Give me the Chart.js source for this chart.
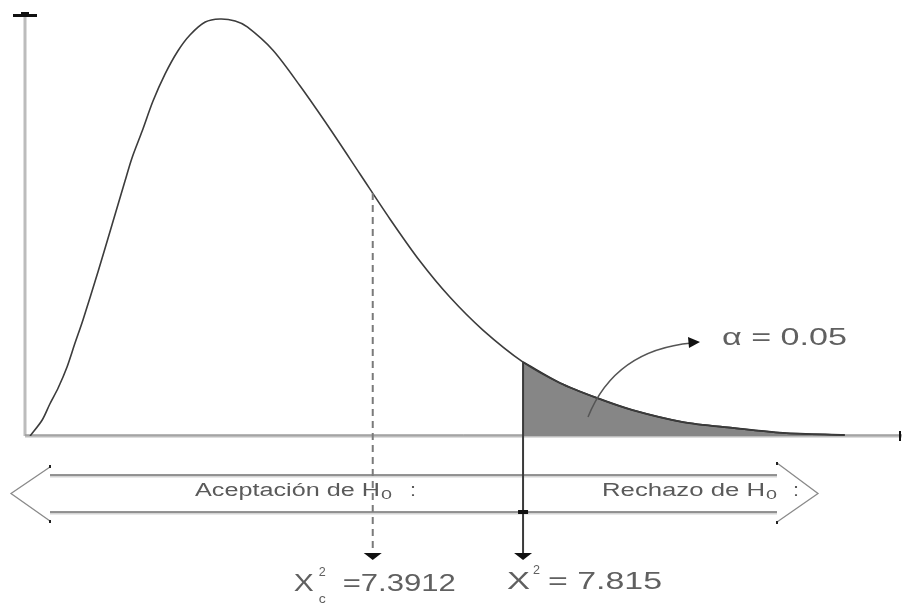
<!doctype html>
<html>
<head>
<title> Chi cuadrado </title>
	<script src="https://cdn.jsdelivr.net/npm/chart.js@4/dist/chart.umd.min.js"></script>
	<style>
		body { margin: 0; background: #fff; }
		canvas { display: block; }
	</style>
</head>

<body>
	<canvas id="canvas" width="902" height="605"></canvas>
	<script>
		// curva
		var curvaX = [0.08, 0.27, 0.39, 0.52, 0.66, 0.78, 0.91, 1.15, 1.37, 1.57, 1.68, 1.84, 2.01, 2.20, 2.40, 2.59, 2.83, 3.06, 3.30, 3.49, 3.89, 4.32, 4.79, 5.26, 5.73, 6.20, 6.67, 7.19, 7.82, 8.40, 8.98, 9.54, 10.33, 11.11, 11.90, 12.87];
		var curvaY = [0.0, 0.0095, 0.0190, 0.0285, 0.0410, 0.0546, 0.0689, 0.0980, 0.1259, 0.1514, 0.1651, 0.1811, 0.1989, 0.2150, 0.2286, 0.2381, 0.2458, 0.2476, 0.2464, 0.2429, 0.2292, 0.2078, 0.1823, 0.1556, 0.1289, 0.1039, 0.0825, 0.0629, 0.0439, 0.0315, 0.0226, 0.0154, 0.0083, 0.0048, 0.0018, 0.0006];

		// posicion de las marcas y sus etiquetas
		var marcaCalculada = 5.46;
		var marcaCritica = 7.82;
		var etiquetaCalculada = '=7.3912';
		var etiquetaCritica = '= 7.815';
		var alfaTexto = '\u03B1 = 0.05';

		var puntos = curvaX.map(function(x, i) { return {x: x, y: curvaY[i]}; });
		var cola = puntos.filter(function(p) { return p.x >= marcaCritica; });

		function valorCurva(x) {
			for (var i = 1; i < curvaX.length; i++) {
				if (x <= curvaX[i]) {
					var t = (x - curvaX[i - 1]) / (curvaX[i] - curvaX[i - 1]);
					return curvaY[i - 1] + t * (curvaY[i] - curvaY[i - 1]);
				}
			}
			return 0;
		}

		// texto estirado al ancho de la figura original
		function texto(ctx, str, x, y, size, ancho) {
			ctx.font = size + 'px "Liberation Sans", Arial, sans-serif';
			var w = ctx.measureText(str).width;
			ctx.save();
			ctx.translate(x, y);
			ctx.scale(ancho / w, 1);
			ctx.fillText(str, 0, 0);
			ctx.restore();
		}

		function flechaAbajo(ctx, x, y) {
			ctx.fillStyle = '#111';
			ctx.beginPath();
			ctx.moveTo(x - 9, y - 3);
			ctx.lineTo(x + 9, y - 3);
			ctx.lineTo(x, y + 4);
			ctx.closePath();
			ctx.fill();
		}

		var ejes = {
			id: 'ejes',
			beforeDatasetsDraw: function(chart) {
				var ctx = chart.ctx, sx = chart.scales.x, sy = chart.scales.y;
				var x0 = sx.getPixelForValue(0), y0 = sy.getPixelForValue(0);
				ctx.save();
				ctx.strokeStyle = '#bcbcbc';
				ctx.lineWidth = 3;
				ctx.beginPath();
				ctx.moveTo(x0, y0);
				ctx.lineTo(x0, sy.top);
				ctx.moveTo(x0, y0);
				ctx.lineTo(chart.width, y0);
				ctx.stroke();
				ctx.strokeStyle = '#8c8c8c';
				ctx.lineWidth = 1;
				ctx.beginPath();
				ctx.moveTo(x0, y0 - 1);
				ctx.lineTo(chart.width, y0 - 1);
				ctx.stroke();
				// punta del eje y
				ctx.fillStyle = '#111';
				ctx.fillRect(x0 - 12, sy.top - 1, 24, 3);
				ctx.fillRect(x0 - 4, sy.top - 3, 8, 3);
				// fin del eje x
				ctx.fillRect(chart.width - 3, y0 - 5, 2, 10);
				ctx.restore();
			},
			afterDatasetsDraw: function(chart) {
				var ctx = chart.ctx, sx = chart.scales.x, sy = chart.scales.y;
				var y0 = sy.getPixelForValue(0);
				var xc = sx.getPixelForValue(marcaCalculada);
				var xk = sx.getPixelForValue(marcaCritica);
				var fondo = y0 + 120;
				ctx.save();

				// banda de doble flecha
				var bTop = y0 + 39, bBot = y0 + 76, bMid = (bTop + bBot) / 2;
				ctx.strokeStyle = '#d4d4d4';
				ctx.lineWidth = 3;
				ctx.beginPath();
				ctx.moveTo(50, bTop + 1); ctx.lineTo(777, bTop + 1);
				ctx.moveTo(50, bBot + 1); ctx.lineTo(777, bBot + 1);
				ctx.stroke();
				ctx.strokeStyle = '#7a7a7a';
				ctx.lineWidth = 1.5;
				ctx.beginPath();
				ctx.moveTo(50, bTop); ctx.lineTo(777, bTop);
				ctx.moveTo(50, bBot); ctx.lineTo(777, bBot);
				ctx.stroke();
				ctx.strokeStyle = '#8a8a8a';
				ctx.lineWidth = 1.3;
				ctx.beginPath();
				ctx.moveTo(50, bTop - 8); ctx.lineTo(11, bMid); ctx.lineTo(50, bBot + 9);
				ctx.moveTo(777, bTop - 12); ctx.lineTo(818, bMid); ctx.lineTo(777, bBot + 10);
				ctx.stroke();
				ctx.fillStyle = '#222';
				ctx.fillRect(49, bTop - 10, 2, 3);
				ctx.fillRect(49, bBot + 8, 2, 3);
				ctx.fillRect(776, bTop - 13, 2, 3);
				ctx.fillRect(776, bBot + 9, 2, 3);

				// textos de la banda
				ctx.fillStyle = '#5a5a5a';
				ctx.textBaseline = 'alphabetic';
				texto(ctx, 'Aceptaci\u00f3n de H', 195, bMid + 2, 18, 185);
				texto(ctx, '0', 381, bMid + 5, 13, 11);
				texto(ctx, ':', 410, bMid + 2, 18, 6);
				texto(ctx, 'Rechazo de H', 602, bMid + 2, 18, 163);
				texto(ctx, '0', 766, bMid + 5, 13, 11);
				texto(ctx, ':', 793, bMid + 2, 18, 6);

				// linea punteada (valor calculado)
				ctx.strokeStyle = '#7a7a7a';
				ctx.lineWidth = 2;
				ctx.setLineDash([7, 5]);
				ctx.beginPath();
				ctx.moveTo(xc, sy.getPixelForValue(valorCurva(marcaCalculada)));
				ctx.lineTo(xc, fondo - 3);
				ctx.stroke();
				ctx.setLineDash([]);
				flechaAbajo(ctx, xc, fondo);

				// linea solida (valor critico)
				ctx.strokeStyle = '#3a3a3a';
				ctx.lineWidth = 2;
				ctx.beginPath();
				ctx.moveTo(xk, sy.getPixelForValue(valorCurva(marcaCritica)));
				ctx.lineTo(xk, fondo - 3);
				ctx.stroke();
				flechaAbajo(ctx, xk, fondo);
				ctx.fillStyle = '#111';
				ctx.fillRect(xk - 5, bBot - 2, 10, 4);

				// etiquetas chi
				ctx.fillStyle = '#606060';
				texto(ctx, '\u03A7', xc - 79, fondo + 35, 24, 20);
				texto(ctx, '2', xc - 54, fondo + 20, 13, 7);
				texto(ctx, 'c', xc - 54, fondo + 47, 13, 7);
				texto(ctx, etiquetaCalculada, xc - 30, fondo + 35, 24, 113);
				texto(ctx, '\u03A7', xk - 16, fondo + 33, 24, 23);
				texto(ctx, '2', xk + 10, fondo + 18, 13, 7);
				texto(ctx, etiquetaCritica, xk + 25, fondo + 33, 24, 114);

				// alfa con flecha curva
				texto(ctx, alfaTexto, 722, 345, 24, 125);
				ctx.strokeStyle = '#555';
				ctx.lineWidth = 1.5;
				ctx.beginPath();
				ctx.moveTo(588, 417);
				ctx.quadraticCurveTo(615, 350, 692, 343);
				ctx.stroke();
				ctx.fillStyle = '#111';
				ctx.beginPath();
				ctx.moveTo(700, 342);
				ctx.lineTo(688, 337);
				ctx.lineTo(689, 348);
				ctx.closePath();
				ctx.fill();
				ctx.restore();
			}
		};

		var config = {
			type: 'line',
			data: {
				datasets: [{
					label: 'curva',
					data: puntos,
					borderColor: '#3c3c3c',
					borderWidth: 1.6,
					pointRadius: 0,
					tension: 0.3,
					fill: false
				}, {
					label: 'alfa',
					data: cola,
					borderColor: '#2a2a2a',
					borderWidth: 1.8,
					backgroundColor: '#868686',
					pointRadius: 0,
					tension: 0.3,
					fill: 'origin'
				}]
			},
			options: {
				responsive: false,
				animation: false,
				layout: { padding: { left: 25, top: 15, right: 0, bottom: 169 } },
				plugins: { legend: { display: false }, tooltip: { enabled: false } },
				scales: {
					x: { type: 'linear', min: 0, max: 13.77, display: false },
					y: { min: 0, max: 0.25, display: false }
				}
			},
			plugins: [ejes]
		};

		window.onload = function() {
			var ctx = document.getElementById('canvas').getContext('2d');
			window.myLine = new Chart(ctx, config);
		};
	</script>
</body>

</html>
